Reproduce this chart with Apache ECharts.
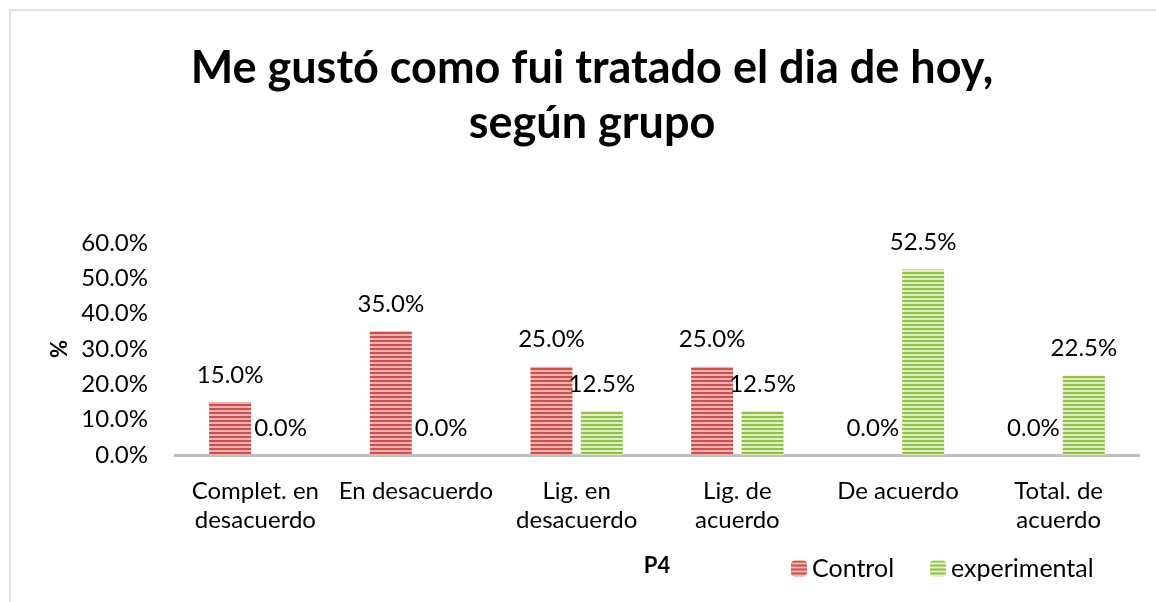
<!DOCTYPE html>
<html>
<head>
<meta charset="utf-8">
<script src="https://cdn.jsdelivr.net/npm/echarts@6/dist/echarts.min.js"></script>
<style>
  html, body { margin: 0; padding: 0; background: #fff; }
  #chart { width: 1156px; height: 602px; }
</style>
</head>
<body>
<div id="chart"></div>
<script>
//datos
const categories = ['Complet. en\ndesacuerdo', 'En desacuerdo', 'Lig. en\ndesacuerdo', 'Lig. de\nacuerdo', 'De acuerdo', 'Total. de\nacuerdo'];
const controlValues = [15.0, 35.0, 25.0, 25.0, 0.0, 0.0];
const experimentalValues = [0.0, 0.0, 12.5, 12.5, 52.5, 22.5];
const yTicks = [0, 10, 20, 30, 40, 50, 60];

//patron de rayas horizontales
function stripes(dark, light) {
  const c = document.createElement('canvas');
  c.width = 4;
  c.height = 4;
  const ctx = c.getContext('2d');
  ctx.fillStyle = light;
  ctx.fillRect(0, 0, 4, 4);
  ctx.fillStyle = dark;
  ctx.fillRect(0, 0, 4, 2);
  return { image: c, repeat: 'repeat' };
}

const font = 'Lato, "Open Sans", sans-serif';
const labelStyle = {
  show: true,
  position: 'top',
  distance: 15,
  color: '#000',
  fontSize: 24,
  fontFamily: font,
  formatter: p => p.value.toFixed(1) + '%'
};

const myChart = echarts.init(document.getElementById('chart'));
myChart.setOption({
  animation: false,
  graphic: [
    {
      type: 'rect',
      shape: { x: 10, y: 10, width: 1160, height: 600 },
      style: { fill: 'none', stroke: '#d9d9d9', lineWidth: 1.5 },
      silent: true
    },
    //titulo
    {
      type: 'text',
      x: 592,
      y: 41,
      style: {
        text: 'Me gustó como fui tratado el dia de hoy,\nsegún grupo',
        align: 'center',
        fontSize: 45,
        fontWeight: 'bold',
        fontFamily: font,
        fill: '#000',
        lineHeight: 55
      },
      silent: true
    }
  ],
  legend: {
    left: 786,
    top: 551,
    itemWidth: 16,
    itemHeight: 16,
    itemGap: 36,
    textStyle: { fontSize: 25, fontFamily: font, color: '#000' },
    data: ['Control', 'experimental']
  },
  grid: {
    left: 175,
    right: 17,
    top: 243,
    bottom: 147
  },
  xAxis: {
    type: 'category',
    data: categories,
    name: 'P4',
    nameLocation: 'middle',
    nameGap: 100,
    nameTextStyle: { fontSize: 22, fontWeight: 'bold', fontFamily: font, color: '#000' },
    axisLine: { lineStyle: { color: '#bfbfbf', width: 3 } },
    axisTick: { show: false },
    axisLabel: {
      interval: 0,
      margin: 22,
      fontSize: 24,
      lineHeight: 29,
      fontFamily: font,
      color: '#000'
    }
  },
  yAxis: {
    type: 'value',
    min: yTicks[0],
    max: yTicks[yTicks.length - 1],
    interval: 10,
    name: '%',
    nameLocation: 'middle',
    nameGap: 104,
    nameRotate: 90,
    nameTextStyle: { fontSize: 22, fontWeight: 'bold', fontFamily: font, color: '#000' },
    axisLine: { show: false },
    axisTick: { show: false },
    splitLine: { show: false },
    axisLabel: {
      margin: 27,
      fontSize: 24,
      fontFamily: font,
      color: '#000',
      formatter: v => v.toFixed(1) + '%'
    }
  },
  series: [
    {
      name: 'Control',
      type: 'bar',
      data: controlValues,
      barWidth: 42,
      barGap: '20%',
      itemStyle: { color: stripes('#c9504d', '#eeb2b0') },
      label: labelStyle
    },
    {
      name: 'experimental',
      type: 'bar',
      data: experimentalValues,
      barWidth: 42,
      itemStyle: { color: stripes('#92c14a', '#def0c4') },
      label: labelStyle
    }
  ]
});
</script>
</body>
</html>
